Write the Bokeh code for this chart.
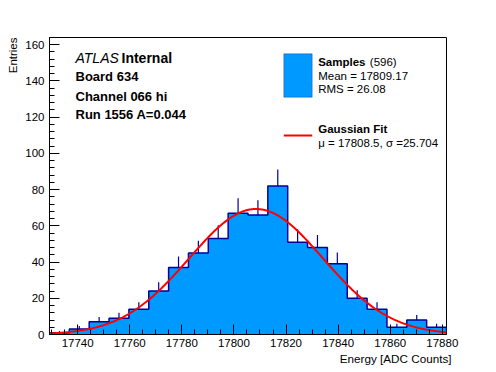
import numpy as np
from bokeh.plotting import figure
from bokeh.models import Range1d, SingleIntervalTicker, Label, BoxAnnotation, Title
from bokeh.embed import file_html
from bokeh.resources import INLINE

# ---------------- data ----------------
bin_low = 17729.2
bin_width = 7.62
counts = [1, 3, 7, 9, 14, 24, 37, 45, 53, 67, 66, 82, 51, 48, 39, 20, 14, 4, 8, 4]
n_entries = 596
mean_val = 17809.17
rms_val = 26.08
fit_const = 69.3
fit_mu = 17808.5
fit_sigma = 25.704
y_max = 164
x_tick_step = 20
y_tick_step = 20
board = "634"
channel = "066 hi"
run = "1556"
amp = "0.044"

# ---------------- derived ----------------
counts_a = np.array(counts, dtype=float)
edges = bin_low + bin_width * np.arange(len(counts) + 1)
centers = 0.5 * (edges[:-1] + edges[1:])

FONT = "Liberation Sans"
FILL = "#0099ff"
EDGE = "#000099"

p = figure(width=496, height=372, output_backend="svg", toolbar_location=None,
           x_range=Range1d(edges[0], edges[-1]), y_range=Range1d(0, y_max),
           min_border_left=49, min_border_right=50, min_border_top=37, min_border_bottom=38)
p.xgrid.visible = False
p.ygrid.visible = False
p.outline_line_color = "black"
p.outline_line_width = 1
p.outline_line_alpha = 1
p.background_fill_color = "white"
p.border_fill_color = "white"

# histogram outline coordinates (step), also used for the fill
xs = [edges[0]]
ys = [0.0]
for i, c in enumerate(counts_a):
    xs += [edges[i], edges[i + 1]]
    ys += [c, c]
xs.append(edges[-1])
ys.append(0.0)

p.patch(xs, ys, fill_color=FILL, line_color=None)
p.line(xs, ys, line_color=EDGE, line_width=1.5)

# error bars (upper part visible)
p.segment(x0=centers, y0=counts_a, x1=centers, y1=counts_a + np.sqrt(counts_a),
          line_color=EDGE, line_width=1.2)

# gaussian fit curve from fit parameters
xf = np.linspace(edges[0], edges[-1], 400)
yf = fit_const * np.exp(-0.5 * ((xf - fit_mu) / fit_sigma) ** 2)
p.line(xf, yf, line_color="#ff0000", line_width=2)

# axes
xa = p.xaxis[0]
xa.ticker = SingleIntervalTicker(interval=x_tick_step, num_minor_ticks=4)
ya = p.yaxis[0]
ya.ticker = SingleIntervalTicker(interval=y_tick_step, num_minor_ticks=5)
for ax in (xa, ya):
    ax.major_tick_in = 10
    ax.major_tick_out = 0
    ax.minor_tick_in = 5
    ax.minor_tick_out = 0
    ax.major_tick_line_color = "black"
    ax.minor_tick_line_color = "black"
    ax.axis_line_color = "black"
    ax.major_label_text_font = FONT
    ax.major_label_text_font_size = "11.5px"
    ax.major_label_text_color = "black"
xa.major_label_standoff = 4
ya.major_label_standoff = 5

# axis titles (right/top aligned like ROOT)
p.add_layout(Title(text="Energy [ADC Counts]", align="right", offset=-5, standoff=0,
                   text_font=FONT, text_font_size="11.7px", text_font_style="normal",
                   text_color="black"), "below")
p.add_layout(Title(text="Entries", align="right", offset=0, standoff=8,
                   text_font=FONT, text_font_size="11.5px", text_font_style="normal",
                   text_color="black"), "left")

def lab(text, x, y, size="11.5px", style="normal", align="left", baseline="alphabetic"):
    p.add_layout(Label(x=x, y=y, x_units="screen", y_units="screen", text=text,
                       text_font=FONT, text_font_size=size, text_font_style=style,
                       text_align=align, text_baseline=baseline, text_color="black"))

# ATLAS block
lab("ATLAS", 26, 276.5, size="14px", style="italic")
lab("Internal", 72, 276.5, size="14px", style="bold")
lab("Board " + board, 26, 258.5, size="13px", style="bold")
lab("Channel " + channel, 26, 238.5, size="13px", style="bold")
lab("Run " + run + " A=" + amp, 26, 220.5, size="13px", style="bold")

# legend
p.add_layout(BoxAnnotation(left=234.3, right=262.7, top=280.7, bottom=237.3,
                           left_units="screen", right_units="screen",
                           top_units="screen", bottom_units="screen",
                           fill_color=FILL, fill_alpha=1, line_color=EDGE, line_width=1))
p.add_layout(BoxAnnotation(left=234.3, right=262.7, top=200, bottom=198,
                           left_units="screen", right_units="screen",
                           top_units="screen", bottom_units="screen",
                           fill_color="#ff0000", fill_alpha=1, line_color=None))
lab("Samples", 268.7, 273, style="bold")
lab("(%d)" % n_entries, 320.3, 273)
lab("Mean = %.2f" % mean_val, 268.7, 259)
lab("RMS = %.2f" % rms_val, 268.7, 245.5)
lab("Gaussian Fit", 268.7, 205.5, style="bold")
lab("\u03bc = %.1f, \u03c3 =%.3f" % (fit_mu, fit_sigma), 268.7, 192)

open("out.html", "w").write(file_html(p, INLINE))
